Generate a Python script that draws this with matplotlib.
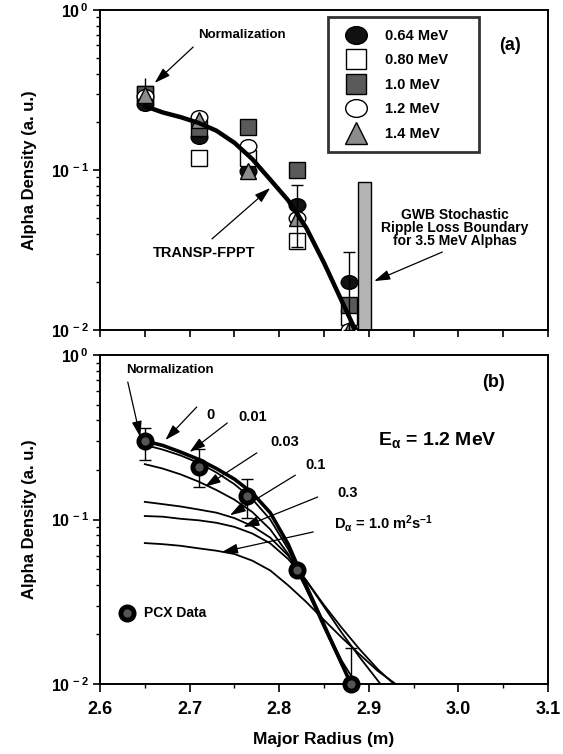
import numpy as np
from matplotlib import pyplot as plt
from matplotlib.lines import Line2D
from matplotlib.markers import MarkerStyle
from matplotlib.ticker import MultipleLocator, FuncFormatter, LogLocator, NullFormatter
from matplotlib.transforms import Affine2D

# ---- panel (a): measured alpha density for several energies ----
radius = [2.65, 2.71, 2.765, 2.82, 2.878]
dens_064 = [0.258, 0.161, 0.098, 0.0604, 0.020]
dens_080 = [0.300, 0.119, 0.119, 0.036, 0.012]
dens_100 = [0.300, 0.183, 0.186, 0.100, 0.0143]
dens_120 = [0.290, 0.214, 0.141, 0.050, 0.010]
dens_140 = [0.295, 0.205, 0.099, 0.050, 0.010]
energy_labels = ['0.64 MeV', '0.80 MeV', '1.0 MeV', '1.2 MeV', '1.4 MeV']

# error bars on the 0.64 MeV points
err_r = [2.82, 2.878]
err_val = [0.0604, 0.020]
err_top = [0.0806, 0.0307]
err_bot = [0.033, 0.010]
norm_bar_top = 0.375

transp_r = [2.65, 2.67, 2.69, 2.71, 2.73, 2.75, 2.77, 2.79, 2.81, 2.83, 2.85, 2.87, 2.885]
transp_dens = [0.251, 0.229, 0.214, 0.197, 0.176, 0.148, 0.117, 0.0871, 0.0646,
               0.0437, 0.0263, 0.0151, 0.0100]

# GWB stochastic ripple loss boundary
boundary_left = 2.888
boundary_right = 2.903
boundary_top = 0.084

# ---- panel (b): PCX data at 1.2 MeV and diffusive model curves ----
pcx_r = [2.65, 2.711, 2.764, 2.82, 2.88]
pcx_dens = [0.300, 0.209, 0.139, 0.0493, 0.0100]
pcx_top = [0.360, 0.268, 0.176, 0.0493, 0.0166]
pcx_bot = [0.230, 0.158, 0.102, 0.0493, 0.0100]

r_grid = [2.65, 2.67, 2.69, 2.71, 2.73, 2.75, 2.77, 2.79, 2.81, 2.83, 2.85, 2.87]
model_d = ['0', '0.01', '0.03', '0.1', '0.3', '1.0']
model_end_r = [2.880, 2.882, 2.886, 2.913, 2.928, 2.930]
model_dens = [
    [0.300, 0.282, 0.257, 0.232, 0.204, 0.176, 0.145, 0.110, 0.0708, 0.0398, 0.0229, 0.0132],
    [0.284, 0.266, 0.245, 0.221, 0.193, 0.164, 0.133, 0.100, 0.0661, 0.0380, 0.0219, 0.0129],
    [0.217, 0.204, 0.188, 0.170, 0.151, 0.132, 0.111, 0.0871, 0.0617, 0.0380, 0.0229, 0.0138],
    [0.128, 0.124, 0.120, 0.115, 0.110, 0.102, 0.0912, 0.0776, 0.0603, 0.0427, 0.0295, 0.0204, 0.0145],
    [0.105, 0.104, 0.101, 0.0989, 0.0955, 0.0902, 0.0822, 0.0716, 0.0575, 0.0427, 0.0302, 0.0219,
     0.0162, 0.0123],
    [0.0719, 0.0708, 0.0692, 0.0668, 0.0646, 0.0617, 0.0562, 0.0490, 0.0398, 0.0316, 0.0245,
     0.0191, 0.0151, 0.0120],
]
extra_r = [2.89, 2.91]

plt.rcParams.update({
    'font.family': 'Liberation Sans',
    'font.weight': 'bold',
    'axes.labelweight': 'bold',
    'mathtext.fontset': 'custom',
    'mathtext.rm': 'Liberation Sans:bold',
    'mathtext.it': 'Liberation Sans:bold',
    'mathtext.bf': 'Liberation Sans:bold',
    'mathtext.sf': 'Liberation Sans:bold',
    'mathtext.default': 'bf',
    'axes.linewidth': 1.4,
})

fig = plt.figure(figsize=(5.63, 7.54), dpi=100)
ax_a = fig.add_axes([100 / 563, 1 - 330 / 754, 448 / 563, 320 / 754])
ax_b = fig.add_axes([100 / 563, 1 - 684 / 754, 448 / 563, 329 / 754])

ellipse = MarkerStyle('o', transform=Affine2D().scale(1.0, 0.82))
styles = [
    dict(marker=ellipse, mfc='#111111', mec='k'),
    dict(marker='s', mfc='white', mec='k'),
    dict(marker='s', mfc='#5a5a5a', mec='k'),
    dict(marker=ellipse, mfc='white', mec='k'),
    dict(marker='^', mfc='#8c8c8c', mec='k'),
]
series = [dens_064, dens_080, dens_100, dens_120, dens_140]
sizes = [12, 11, 11, 12, 12]


def log_axis(ax):
    ax.set_yscale('log')
    ax.set_ylim(0.01, 1.0)
    ax.set_xlim(2.6, 3.1)
    ax.yaxis.set_major_locator(LogLocator(base=10, numticks=5))
    ax.yaxis.set_minor_locator(LogLocator(base=10, subs=np.arange(2, 10), numticks=12))
    ax.yaxis.set_major_formatter(FuncFormatter(
        lambda v, p: '10$^{\\,%d}$' % round(np.log10(v))))
    ax.yaxis.set_minor_formatter(NullFormatter())
    ax.tick_params(axis='y', which='major', length=5, width=1.2, labelsize=11.5, pad=3)
    ax.tick_params(axis='y', which='minor', length=3, width=1.0)
    ax.set_ylabel('Alpha Density (a. u.)', fontsize=12, labelpad=10)


arrow = dict(arrowstyle='-|>,head_length=0.8,head_width=0.25', color='k', lw=0.9,
             mutation_scale=12, shrinkA=0, shrinkB=0)

# ---------------- panel (a) ----------------
log_axis(ax_a)
ax_a.xaxis.set_major_locator(MultipleLocator(0.05))
ax_a.xaxis.set_major_formatter(NullFormatter())
ax_a.tick_params(axis='x', length=5, width=1.2)

for dens, st, ms in zip(series, styles, sizes):
    ax_a.plot(radius, dens, ls='none', ms=ms, mew=1.0, zorder=3, **st)

ax_a.bar(boundary_left, boundary_top - 0.01, width=boundary_right - boundary_left,
         bottom=0.01, align='edge', color='#b4b4b4', edgecolor='k', lw=1.0, zorder=2)

ax_a.vlines(radius[0], dens_100[0], norm_bar_top, color='k', lw=1.0, zorder=2)
ax_a.errorbar(err_r, err_val,
              yerr=[np.subtract(err_val, err_bot), np.subtract(err_top, err_val)],
              fmt='none', ecolor='k', elinewidth=1.0, capsize=4, capthick=1.0, zorder=4)

ax_a.plot(transp_r, transp_dens, color='k', lw=3.2, solid_joinstyle='round',
          solid_capstyle='round', zorder=5)

handles = [Line2D([], [], ls='none', ms=ms, mew=1.0, **st) for st, ms in zip(styles, sizes)]
leg = ax_a.legend(handles, energy_labels, loc='upper left',
                  bbox_to_anchor=(0.509, 0.553, 0.337, 0.425), mode='expand',
                  frameon=True, fancybox=False, edgecolor='k', fontsize=10.5,
                  markerscale=1.3, labelspacing=0.72, handlelength=2.2, handletextpad=0.9,
                  borderpad=0.8, borderaxespad=0)
leg.get_frame().set_linewidth(2.0)

ax_a.text(3.058, 0.604, '(a)', fontsize=13, ha='center', va='center')
ax_a.text(2.710, 0.698, 'Normalization', fontsize=9.5, ha='left', va='center')
ax_a.annotate('', xy=(2.661, 0.350), xytext=(2.704, 0.587), arrowprops=arrow)
ax_a.text(2.716, 0.0303, 'TRANSP-FPPT', fontsize=10.5, ha='center', va='center')
ax_a.annotate('', xy=(2.790, 0.0772), xytext=(2.725, 0.0371), arrowprops=arrow)
ax_a.text(2.996, 0.0434, 'GWB Stochastic\nRipple Loss Boundary\nfor 3.5 MeV Alphas',
          fontsize=10, ha='center', va='center', linespacing=0.95)
ax_a.annotate('', xy=(2.906, 0.0202), xytext=(2.982, 0.0307), arrowprops=arrow)

# ---------------- panel (b) ----------------
log_axis(ax_b)
ax_b.xaxis.set_major_locator(MultipleLocator(0.1))
ax_b.xaxis.set_minor_locator(MultipleLocator(0.05))
ax_b.xaxis.set_major_formatter(FuncFormatter(lambda v, p: '%.1f' % v))
ax_b.tick_params(axis='x', which='major', length=6, width=1.2, labelsize=13, pad=6)
ax_b.tick_params(axis='x', which='minor', length=3, width=1.0)
ax_b.set_xlabel('Major Radius (m)', fontsize=12.5, labelpad=10)

for i, dens in enumerate(model_dens):
    r = r_grid + extra_r[:len(dens) - len(r_grid)] + [model_end_r[i]]
    ax_b.plot(r, dens + [0.0100], color='k', lw=2.6 if i == 0 else 1.3,
              solid_joinstyle='round', zorder=2)

ax_b.errorbar(pcx_r, pcx_dens,
              yerr=[np.subtract(pcx_dens, pcx_bot), np.subtract(pcx_top, pcx_dens)],
              fmt='none', ecolor='k', elinewidth=1.0, capsize=4, capthick=1.0, zorder=3)
ax_b.plot(pcx_r, pcx_dens, ls='none', marker='o', ms=9.5, mfc='#555555', mec='k',
          mew=3.5, zorder=4, clip_on=False)

ax_b.text(2.678, 0.811, 'Normalization', fontsize=9.5, ha='center', va='center')
ax_b.annotate('', xy=(2.645, 0.317), xytext=(2.631, 0.685), arrowprops=arrow)
label_pos = [(2.719, 0.432), (2.754, 0.420), (2.790, 0.296), (2.829, 0.214), (2.865, 0.145)]
tails = [(2.708, 0.483), (2.742, 0.386), (2.775, 0.254), (2.818, 0.186), (2.843, 0.137)]
tips = [(2.673, 0.304), (2.700, 0.257), (2.717, 0.158), (2.745, 0.106), (2.760, 0.0900)]
for lab, pos, tail, tip in zip(model_d[:5], label_pos, tails, tips):
    ax_b.text(pos[0], pos[1], lab, fontsize=10.5, ha='left', va='center')
    ax_b.annotate('', xy=tip, xytext=tail, arrowprops=arrow)
ax_b.text(2.861, 0.0952, 'D$_{\\alpha}$ = 1.0 m$^{2}$s$^{-1}$', fontsize=10.5,
          ha='left', va='center')
ax_b.annotate('', xy=(2.736, 0.0634), xytext=(2.838, 0.0840), arrowprops=arrow)

ax_b.text(2.910, 0.304, 'E$_{\\alpha}$ = 1.2 MeV', fontsize=14, ha='left', va='center')
ax_b.text(3.039, 0.676, '(b)', fontsize=13, ha='center', va='center')

ax_b.plot([2.630], [0.0270], ls='none', marker='o', ms=9.5, mfc='#555555', mec='k', mew=3.5)
ax_b.text(2.649, 0.0270, 'PCX Data', fontsize=10, ha='left', va='center')

fig.savefig('out.png', dpi=100)
